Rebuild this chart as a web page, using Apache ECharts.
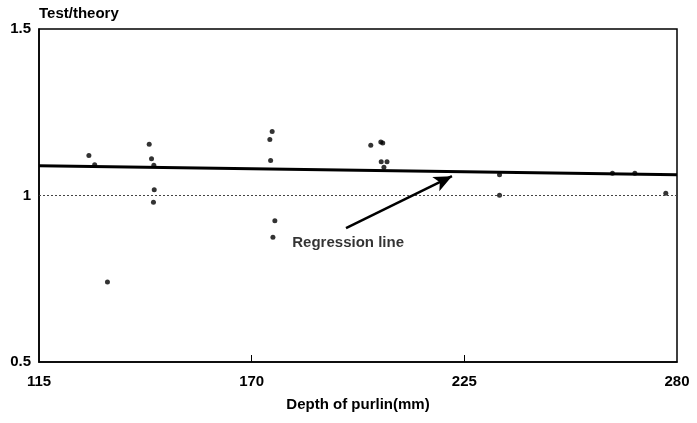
<!DOCTYPE html>
<html><head><meta charset="utf-8">
<script src="https://cdn.jsdelivr.net/npm/echarts@6/dist/echarts.min.js"></script>
<style>html,body{margin:0;padding:0;background:#fff}#c{width:697px;height:423px}</style>
</head><body><div id="c"></div>
<script>
// Data
const depth = [127.9,129.4,132.7,143.5,144.1,144.7,144.8,144.6,174.7,175.3,174.9,176.0,175.5,200.8,203.4,203.9,203.5,205.0,204.2,234.1,234.1,263.3,269.1,277.1];
const ratio = [1.120,1.092,0.740,1.154,1.110,1.091,1.017,0.980,1.168,1.192,1.105,0.924,0.875,1.151,1.161,1.158,1.101,1.101,1.085,1.062,1.001,1.067,1.067,1.007];
const regressionX = [115, 280];
const regressionY = [1.089, 1.062];
const referenceY = 1.0;
const xTicks = [115, 170, 225, 280];
const xInnerTicks = [170, 225];
const arrowFrom = [194.4, 0.902];
const arrowTo = [221.8, 1.058];
const annotationAt = [180.5, 0.858];
const annotationText = 'Regression line';

const font = '"Liberation Sans", Arial, sans-serif';
const chart = echarts.init(document.getElementById('c'), null, {renderer:'canvas'});
chart.setOption({
  animation:false,
  backgroundColor:'#fff',
  grid:{left:39,right:20,top:29,bottom:61,show:true,borderColor:'#000',borderWidth:1.5},
  xAxis:{type:'value',min:115,max:280,
    name:'Depth of purlin(mm)',nameLocation:'middle',nameGap:35,
    nameTextStyle:{fontFamily:font,fontWeight:'bold',fontSize:15,color:'#000'},
    axisLine:{show:true,lineStyle:{color:'#000',width:1.5}},
    axisTick:{show:true,inside:true,length:7,customValues:xInnerTicks,lineStyle:{color:'#000',width:1}},
    axisLabel:{customValues:xTicks,margin:12,fontFamily:font,fontWeight:'bold',fontSize:15,color:'#000'},
    splitLine:{show:false}},
  yAxis:{type:'value',min:0.5,max:1.5,interval:0.5,
    name:'Test/theory',nameLocation:'end',nameGap:8,
    nameTextStyle:{fontFamily:font,fontWeight:'bold',fontSize:15,color:'#000',align:'left',padding:[0,0,0,0]},
    axisLine:{show:true,lineStyle:{color:'#000',width:1.5}},
    axisTick:{show:false},
    axisLabel:{margin:8,fontFamily:font,fontWeight:'bold',fontSize:15,color:'#000',
      formatter:v=>String(v)},
    splitLine:{show:false}},
  series:[
    {type:'line',data:[[115,referenceY],[280,referenceY]],symbol:'none',silent:true,
      lineStyle:{color:'#444',width:1.2,type:[2,2]}},
    {type:'line',data:regressionX.map((x,i)=>[x,regressionY[i]]),symbol:'none',silent:true,
      lineStyle:{color:'#000',width:3},
      markLine:{silent:true,symbol:['none','arrow'],symbolSize:[12,18],
        lineStyle:{color:'#000',width:2.5,type:'solid'},label:{show:false},
        data:[[{coord:arrowFrom},{coord:arrowTo}]]}},
    {type:'scatter',data:depth.map((x,i)=>[x,ratio[i]]),symbol:'circle',symbolSize:5,
      itemStyle:{color:'#000'}},
    {type:'scatter',data:[annotationAt],symbolSize:0,silent:true,
      label:{show:true,position:'right',distance:0,formatter:annotationText,
        fontFamily:font,fontWeight:'bold',fontSize:15,color:'#000'}}
  ]
});
</script></body></html>
